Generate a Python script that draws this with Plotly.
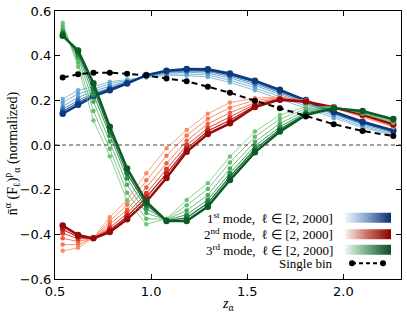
import plotly.graph_objects as go

# redshift bins
z = [0.54, 0.62, 0.70, 0.785, 0.875, 0.975, 1.08, 1.185, 1.295, 1.41, 1.54, 1.67, 1.805, 1.95, 2.10, 2.26]

# 1st mode (light -> dark, last is thick darkest)
mode1 = [
    [0.206, 0.245, 0.261, 0.283, 0.293, 0.302, 0.312, 0.311, 0.305, 0.280, 0.245, 0.205, 0.165, 0.120, 0.077, 0.045],
    [0.190, 0.229, 0.250, 0.274, 0.289, 0.305, 0.317, 0.318, 0.314, 0.290, 0.256, 0.216, 0.174, 0.127, 0.084, 0.050],
    [0.173, 0.213, 0.240, 0.264, 0.284, 0.308, 0.322, 0.326, 0.322, 0.300, 0.267, 0.226, 0.183, 0.135, 0.091, 0.055],
    [0.160, 0.200, 0.231, 0.257, 0.281, 0.310, 0.326, 0.331, 0.329, 0.308, 0.275, 0.234, 0.190, 0.140, 0.096, 0.059],
    [0.150, 0.190, 0.225, 0.251, 0.278, 0.311, 0.329, 0.336, 0.334, 0.314, 0.282, 0.241, 0.196, 0.145, 0.100, 0.062],
    [0.140, 0.180, 0.218, 0.245, 0.275, 0.313, 0.332, 0.340, 0.339, 0.320, 0.288, 0.247, 0.201, 0.149, 0.104, 0.065],
]
# 2nd mode
mode2 = [
    [-0.474, -0.460, -0.415, -0.324, -0.246, -0.126, -0.015, 0.067, 0.140, 0.190, 0.210, 0.215, 0.200, 0.165, 0.125, 0.080],
    [-0.446, -0.446, -0.416, -0.341, -0.268, -0.158, -0.048, 0.043, 0.117, 0.167, 0.200, 0.212, 0.199, 0.166, 0.128, 0.083],
    [-0.418, -0.432, -0.417, -0.357, -0.290, -0.190, -0.082, 0.019, 0.095, 0.144, 0.190, 0.209, 0.197, 0.167, 0.131, 0.087],
    [-0.395, -0.420, -0.417, -0.370, -0.307, -0.216, -0.108, -0.001, 0.076, 0.125, 0.182, 0.207, 0.196, 0.168, 0.133, 0.089],
    [-0.378, -0.412, -0.418, -0.380, -0.320, -0.235, -0.128, -0.016, 0.063, 0.111, 0.176, 0.205, 0.195, 0.168, 0.135, 0.091],
    [-0.361, -0.403, -0.418, -0.390, -0.333, -0.254, -0.148, -0.030, 0.049, 0.097, 0.170, 0.203, 0.194, 0.169, 0.137, 0.093],
]
# 3rd mode
mode3 = [
    [0.547, 0.350, 0.110, -0.050, -0.250, -0.355, -0.330, -0.246, -0.171, -0.052, 0.060, 0.134, 0.171, 0.172, 0.140, 0.100],
    [0.533, 0.368, 0.152, -0.017, -0.214, -0.330, -0.333, -0.270, -0.197, -0.078, 0.037, 0.116, 0.162, 0.170, 0.143, 0.104],
    [0.518, 0.387, 0.194, 0.016, -0.178, -0.305, -0.335, -0.293, -0.224, -0.105, 0.014, 0.097, 0.153, 0.168, 0.146, 0.108],
    [0.506, 0.401, 0.227, 0.042, -0.149, -0.285, -0.337, -0.312, -0.245, -0.126, -0.005, 0.082, 0.145, 0.166, 0.148, 0.111],
    [0.498, 0.412, 0.252, 0.062, -0.127, -0.269, -0.339, -0.326, -0.260, -0.141, -0.019, 0.071, 0.140, 0.165, 0.150, 0.114],
    [0.489, 0.423, 0.277, 0.082, -0.105, -0.254, -0.340, -0.340, -0.276, -0.157, -0.033, 0.060, 0.134, 0.164, 0.152, 0.116],
]
# single bin
single_bin = [0.302, 0.317, 0.324, 0.324, 0.319, 0.311, 0.298, 0.286, 0.261, 0.234, 0.198, 0.164, 0.128, 0.093, 0.063, 0.040]

legend_labels = ["1<sup>st</sup> mode,  ℓ ∈ [2, 2000]",
                 "2<sup>nd</sup> mode,  ℓ ∈ [2, 2000]",
                 "3<sup>rd</sup> mode,  ℓ ∈ [2, 2000]",
                 "Single bin"]

blue_cols = ["#6baed6", "#5ea3d0", "#4b91c5", "#3579b6", "#1f5fa0", "#0c3a7c"]
red_cols = ["#fc8d62", "#f7774f", "#ee5e3e", "#dc3a2b", "#c01e1a", "#960a0a"]
green_cols = ["#74c476", "#62b86d", "#4aa85f", "#30914c", "#187838", "#0b5a28"]
widths = [0.8, 0.8, 0.8, 0.9, 1.2, 2.5]
msizes = [4.5, 4.5, 4.5, 5, 5.5, 6.5]

fig = go.Figure()

fig.add_hline(y=0, line=dict(color="#444444", width=1, dash="4px,3px"))

for mode, cols in ((mode1, blue_cols), (mode2, red_cols), (mode3, green_cols)):
    for vals, c, w, s in zip(mode, cols, widths, msizes):
        fig.add_trace(go.Scatter(x=z, y=vals, mode="lines+markers",
                                 line=dict(color=c, width=w),
                                 marker=dict(size=s, color=c),
                                 showlegend=False, hoverinfo="skip"))

fig.add_trace(go.Scatter(x=z, y=single_bin, mode="lines+markers",
                         line=dict(color="black", width=2, dash="6px,4px"),
                         marker=dict(size=6, color="black"),
                         showlegend=False, hoverinfo="skip"))

# legend drawn in a pixel-like overlay axis
grads = [
    [[0, "#f4f7fc"], [0.5, "#7e9ecb"], [1, "#0b2e6e"]],
    [[0, "#fcf0ee"], [0.5, "#c86b62"], [1, "#8a0000"]],
    [[0, "#f0f7f2"], [0.5, "#6fa884"], [1, "#0a4d24"]],
]
rows = [217.7, 234.3, 249.7]
for g, yc in zip(grads, rows):
    fig.add_trace(go.Scatter(x=[345, 391, 391, 345, 345],
                             y=[yc - 5, yc - 5, yc + 5, yc + 5, yc - 5],
                             mode="lines", fill="toself",
                             fillgradient=dict(type="horizontal", colorscale=g),
                             line=dict(width=0, color="rgba(0,0,0,0)"),
                             xaxis="x2", yaxis="y2",
                             showlegend=False, hoverinfo="skip"))
fig.add_trace(go.Scatter(x=[352, 383], y=[263.3, 263.3], mode="lines+markers",
                         line=dict(color="black", width=2, dash="4px,3px"),
                         marker=dict(size=6, color="black"),
                         xaxis="x2", yaxis="y2", showlegend=False, hoverinfo="skip"))

for lab, yc in zip(legend_labels, rows + [263.3]):
    fig.add_annotation(x=335, y=yc, xref="x2", yref="y2", text=lab,
                       showarrow=False, xanchor="right", yanchor="middle",
                       font=dict(family="Liberation Serif", size=13, color="black"))

# axis titles
fig.add_annotation(x=-0.124, y=0.47, xref="paper", yref="paper",
                   text="n̄<sup>α</sup> (F<sub>ℓ</sub>)<sup>p</sup><sub>α</sub> (normalized)",
                   textangle=-90, showarrow=False, xanchor="center", yanchor="middle",
                   font=dict(family="Liberation Serif", size=14, color="black"))
fig.add_annotation(x=0.5, y=-0.097, xref="paper", yref="paper",
                   text="<i>z</i><sub>α</sub>", showarrow=False,
                   xanchor="center", yanchor="middle",
                   font=dict(family="Liberation Serif", size=14, color="black"))

axis_common = dict(showline=True, linecolor="black", linewidth=1.2, mirror="allticks",
                   ticks="inside", ticklen=5, tickwidth=1, tickcolor="black",
                   showgrid=False, zeroline=False, tickformat=".1f", automargin=False,
                   tickfont=dict(family="DejaVu Sans", size=13, color="black"))

fig.update_layout(
    width=407, height=317,
    margin=dict(l=55, r=6, t=11, b=38, autoexpand=False),
    paper_bgcolor="white", plot_bgcolor="white",
    xaxis=dict(range=[0.5, 2.3], tickvals=[0.5, 1.0, 1.5, 2.0], **axis_common),
    yaxis=dict(range=[-0.6, 0.6], tickvals=[-0.6, -0.4, -0.2, 0.0, 0.2, 0.4, 0.6], **axis_common),
    xaxis2=dict(overlaying="x", anchor="y2", range=[55, 401], visible=False,
                fixedrange=True, automargin=False),
    yaxis2=dict(overlaying="y", anchor="x2", range=[279, 11], visible=False,
                fixedrange=True, automargin=False),
    showlegend=False,
)

fig.write_html("out.html", config={"displayModeBar": False},
               post_script="document.body.style.margin='0';document.body.style.padding='0';")
